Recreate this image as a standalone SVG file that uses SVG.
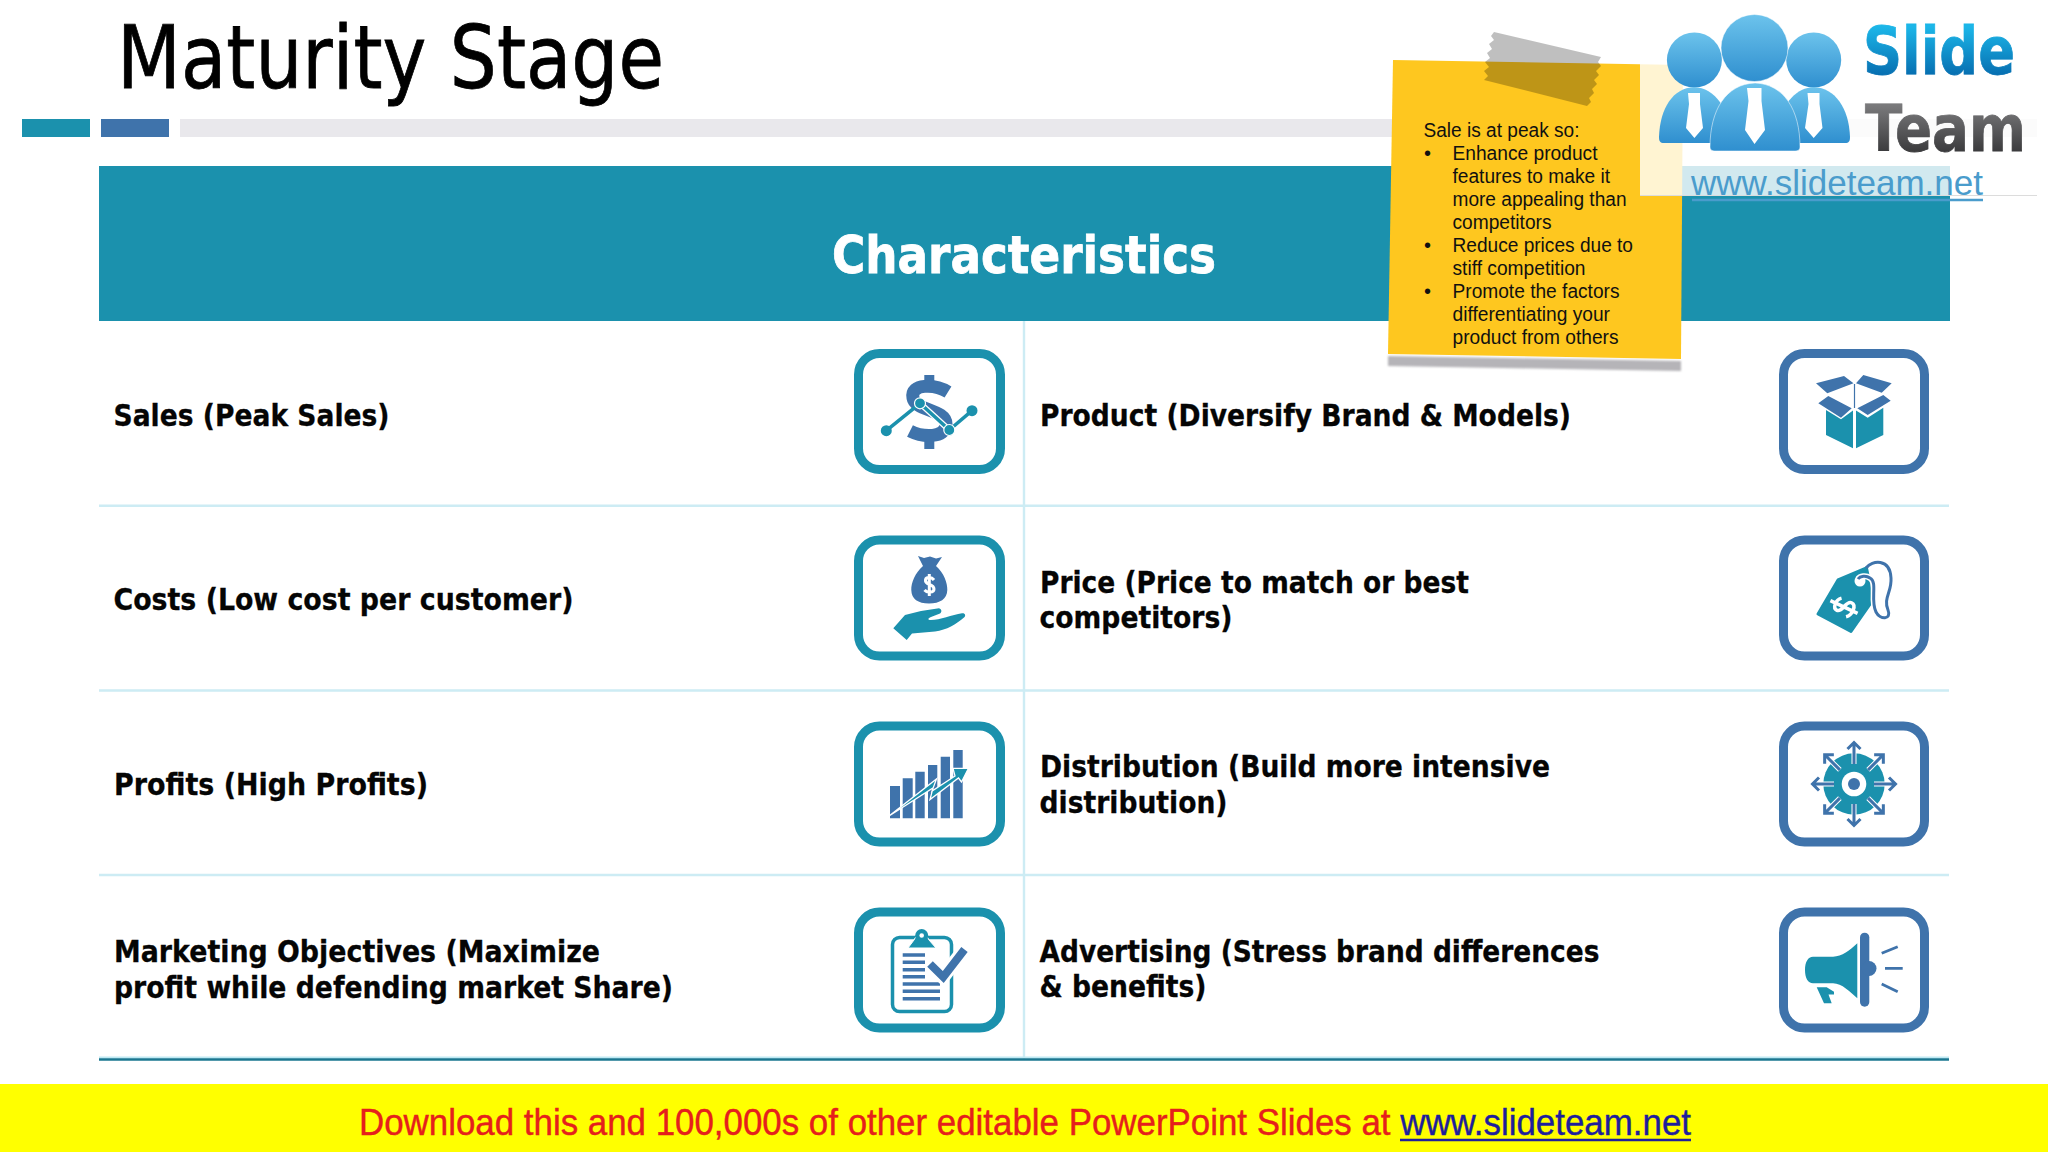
<svg xmlns="http://www.w3.org/2000/svg" width="2048" height="1152" viewBox="0 0 2048 1152">
<style>
.lbl{font-family:"DejaVu Sans","Liberation Sans",sans-serif;font-weight:700;font-size:30px;fill:#050505;stroke:#050505;stroke-width:.3px}
.note{font-family:"Liberation Sans",Arial,sans-serif;font-size:20px;fill:#111}
.box{fill:#fff;stroke-width:9}
.t{stroke:#1b91ad}.b{stroke:#3f73ab}
.ft{fill:#1b91ad}.fb{fill:#3f73ab}
.grid{stroke:#cdecf4;stroke-width:2.4;fill:none}
.ln{fill:none;stroke-linecap:butt}
</style>
<defs>
<filter id="soft" x="-5%" y="-20%" width="110%" height="140%"><feGaussianBlur stdDeviation="1.200"/></filter>
<linearGradient id="gP" x1="0" y1="0" x2="0" y2="1"><stop offset="0" stop-color="#6cc3ec"/><stop offset="1" stop-color="#2f8fcf"/></linearGradient>
<linearGradient id="gS" gradientUnits="userSpaceOnUse" x1="0" y1="27" x2="0" y2="74"><stop offset="0" stop-color="#1cb6e8"/><stop offset="1" stop-color="#0770b2"/></linearGradient>
<linearGradient id="gT" gradientUnits="userSpaceOnUse" x1="0" y1="105" x2="0" y2="151"><stop offset="0" stop-color="#7a7a7c"/><stop offset="1" stop-color="#3c3c3e"/></linearGradient>
<g id="ray"><path d="M0-20V-40" fill="none" stroke="#fff" stroke-width="5"/><path d="M0-20V-41M-6.500-35L0-41.500L6.500-35" fill="none" stroke="#3f73ab" stroke-width="3"/></g>
</defs>
<rect width="2048" height="1152" fill="#fff"/>

<g id="title"><text x="117" y="88" font-family="DejaVu Sans,Liberation Sans,sans-serif" font-size="88" fill="#000" stroke="#000" stroke-width=".8" textLength="547" lengthAdjust="spacingAndGlyphs">Maturity Stage</text></g>

<g id="accent-bars">
<rect x="22" y="119" width="68" height="18" fill="#1b91ad"/>
<rect x="101" y="119" width="68" height="18" fill="#3f73ab"/>
<rect x="180" y="119" width="1857" height="18" fill="#e9e8ec"/>
</g>

<g id="header">
<rect x="99" y="166" width="1851" height="155" fill="#1b91ad"/>
<text x="832" y="272.500" font-family="DejaVu Sans,Liberation Sans,sans-serif" font-weight="700" font-size="52" fill="#fff" stroke="#fff" stroke-width=".8" textLength="384" lengthAdjust="spacingAndGlyphs">Characteristics</text>
</g>

<g id="grid">
<path class="grid" d="M1024 321V1059M99 505.700H1949M99 690.500H1949M99 875H1949"/>
<path d="M99 1057.500H1949" stroke="#bfe9f3" stroke-width="2"/>
<path d="M99 1059.500H1949" stroke="#1a7790" stroke-width="2.400"/>
</g>

<g id="row-sales">
<text class="lbl" x="113.500" y="426.200" textLength="276" lengthAdjust="spacingAndGlyphs">Sales (Peak Sales)</text>
<rect class="box t" x="858.500" y="353.500" width="142" height="116" rx="21"/>
<path class="fb" d="M924.300 375h10v16h-10zM924.300 432h10v17h-10z"/>
<path class="ln b" stroke-width="13" d="M948 392C935 384 910 383 913 398C915 411 946 409 946 424C946 439 922 437 910 431"/>
<path class="ln" stroke="#fff" stroke-width="6" d="M920 403.300L949.300 430"/>
<path class="ln t" stroke-width="3.500" d="M886.300 430.700L920 403.300L949.300 430L972 410.700"/>
<circle class="ft" cx="886.300" cy="430.700" r="5.500"/><circle class="ft" cx="972" cy="410.700" r="5.500"/>
<circle class="ft" cx="920" cy="403.300" r="5.500" stroke="#fff" stroke-width="1.200"/><circle class="ft" cx="949.300" cy="430" r="5.500" stroke="#fff" stroke-width="1.200"/>
</g>

<g id="row-costs">
<text class="lbl" x="113.500" y="610.300" textLength="460" lengthAdjust="spacingAndGlyphs">Costs (Low cost per customer)</text>
<rect class="box t" x="858.500" y="540" width="142" height="116" rx="21"/>
<path class="fb" d="M918 556L924 558L930 556.500L936 558.500L942 557L936 566C944 573 947.500 583 947.300 590C947 599 940 603.500 929 603.500C918 603.500 911.500 599 911.300 590C911 583 915 573 923 566Z"/>
<path class="ln" stroke="#fff" stroke-width="3" d="M934 580C931 576 925 577 925.500 581C926 585 934 584 934 589C934 593 927 593 924.500 590M929.300 574V596"/>
<path class="ft" d="M893.300 628.300L905 615L921 611L939 608.300C942 609 942 612.500 940 613.500L931 617C928 618 927 620 931 620C940 620 952 615 962 613.300C965.500 613 966 616 964 617.500C956 624 947 630 935 631.500L912 633.500L906.700 640Z"/>
</g>

<g id="row-profits">
<text class="lbl" x="114" y="795.200" textLength="314" lengthAdjust="spacingAndGlyphs">Profits (High Profits)</text>
<rect class="box t" x="858.500" y="726" width="142" height="116" rx="21"/>
<path class="fb" d="M890 786h10v32.300h-10zM902.700 778.300h10v40h-10zM915.300 771.700h9.400v46.600h-9.400zM928 765h9.300v53.300h-9.300zM940.700 756.700h9.300v61.600h-9.300zM953.300 750h9.400v68.300h-9.400z"/>
<path class="ft" stroke="#fff" stroke-width="1.300" d="M889 816L936.500 779L932 791L955 776L953 768.300L968.500 768.300L961.500 782L958.500 778L930 799.500L933 788Z"/>
</g>

<g id="row-marketing">
<text class="lbl" x="114" y="961.800" textLength="486" lengthAdjust="spacingAndGlyphs">Marketing Objectives (Maximize</text>
<text class="lbl" x="114" y="997.500" textLength="559" lengthAdjust="spacingAndGlyphs">profit while defending market Share)</text>
<rect class="box t" x="858.500" y="912" width="142" height="116" rx="21"/>
<rect x="892.500" y="937.500" width="59" height="74" rx="7" fill="none" stroke="#1b91ad" stroke-width="3.500"/>
<path class="ft" d="M908 948L914 940A8 8 0 0 1 929 940L936 948Z" stroke="#fff" stroke-width="1"/>
<circle cx="921.700" cy="935.500" r="6.500" class="ft"/><circle cx="921.700" cy="935.500" r="2.300" fill="#fff"/>
<path class="ln b" stroke-width="3.500" d="M902.700 955H925M902.700 962.300H925M902.700 969.700H925M902.700 976.700H925M902.700 984H940M902.700 991.300H940M902.700 998.700H940"/>
<path class="ln" stroke="#fff" stroke-width="14" d="M931 965L943 977L964 950"/>
<path class="ln b" stroke-width="8" d="M930 964L943.300 977L964.500 949.500"/>
</g>

<g id="row-product">
<text class="lbl" x="1040" y="426.200" textLength="531" lengthAdjust="spacingAndGlyphs">Product (Diversify Brand &amp; Models)</text>
<rect class="box b" x="1783.500" y="353.500" width="141" height="116" rx="21"/>
<path class="fb" d="M1816 383.300L1844 376L1853.500 383.300L1827.300 393.300ZM1856 383.300L1863.300 375L1891.700 383.300L1881.700 392.700ZM1818.300 403.300L1828.300 396L1851.700 408.300L1841 417.700ZM1857.300 408.300L1883.300 395L1890.700 400.700L1867.700 415Z"/>
<path class="ft" d="M1826 410L1841 419.300L1853 410.500V448.300L1826 435ZM1856 410.500L1867.700 417.700L1883.300 407.700V435L1856 448.300Z"/>
<path class="ln b" stroke-width="1.200" d="M1854.500 384V408"/>
</g>

<g id="row-price">
<text class="lbl" x="1040" y="592.500" textLength="429" lengthAdjust="spacingAndGlyphs">Price (Price to match or best</text>
<text class="lbl" x="1039.500" y="628.100" textLength="193" lengthAdjust="spacingAndGlyphs">competitors)</text>
<rect class="box b" x="1783.500" y="540" width="141" height="116" rx="21"/>
<path class="ft" stroke="#1b91ad" stroke-width="3" stroke-linejoin="round" d="M1838 580L1866.500 568L1873 600L1851 631.500L1818 614Z"/>
<circle cx="1860" cy="581" r="5.500" fill="#fff"/>
<path class="ln" stroke="#fff" stroke-width="6" d="M1876 612C1870 600 1878 582 1870 578C1866 575 1860 576 1858 579"/>
<path class="ln b" stroke-width="3" d="M1866 568C1872 560 1890 558 1891 578C1892 592 1883 598 1888 610C1892 620 1880 620 1876 612C1870 600 1878 582 1870 578C1866 575 1860 576 1858 579"/>
<g transform="rotate(-65 1844 607)"><path class="ln" stroke="#fff" stroke-width="3.500" d="M1851 601C1847 596 1838 597 1838 602C1838 608 1851 606 1851 612C1851 618 1840 618 1836 613M1844 592V622"/></g>
</g>

<g id="row-distribution">
<text class="lbl" x="1040" y="776.800" textLength="510" lengthAdjust="spacingAndGlyphs">Distribution (Build more intensive</text>
<text class="lbl" x="1039.500" y="812.800" textLength="188" lengthAdjust="spacingAndGlyphs">distribution)</text>
<rect class="box b" x="1783.500" y="726" width="141" height="116" rx="21"/>
<circle class="ft" cx="1854" cy="784" r="30.700"/>
<circle cx="1854" cy="784" r="12.300" fill="#fff"/><circle class="fb" cx="1854" cy="784" r="6"/>
<use href="#ray" transform="translate(1854 784)"/>
<use href="#ray" transform="translate(1854 784) rotate(45)"/>
<use href="#ray" transform="translate(1854 784) rotate(90)"/>
<use href="#ray" transform="translate(1854 784) rotate(135)"/>
<use href="#ray" transform="translate(1854 784) rotate(180)"/>
<use href="#ray" transform="translate(1854 784) rotate(225)"/>
<use href="#ray" transform="translate(1854 784) rotate(270)"/>
<use href="#ray" transform="translate(1854 784) rotate(315)"/>
</g>

<g id="row-advertising">
<text class="lbl" x="1039.500" y="961.500" textLength="560" lengthAdjust="spacingAndGlyphs">Advertising (Stress brand differences</text>
<text class="lbl" x="1039.500" y="996.800" textLength="167" lengthAdjust="spacingAndGlyphs">&amp; benefits)</text>
<rect class="box b" x="1783.500" y="912" width="141" height="116" rx="21"/>
<path class="ft" d="M1813 956.700H1833C1842 956.700 1850 950 1857.300 943.300V998.300C1850 992 1842 983.300 1833 983.300H1813C1808 983.300 1805 978 1805 970C1805 962 1808 956.700 1813 956.700Z"/>
<path class="ft" d="M1816.700 987.300H1826.700L1834 991.700V994.500H1828.500L1831.700 1003.300H1824Z"/>
<rect class="fb" x="1860" y="932.700" width="9.300" height="74" rx="4.600"/>
<circle class="fb" cx="1869" cy="968.500" r="7.500"/>
<path class="ln b" stroke-width="2.800" d="M1881.700 953.300L1897.700 946.700M1885 968.300H1902.700M1881.700 984L1897.700 991.700"/>
</g>

<g id="sticky-note">
<path d="M1388 356L1681 361V371L1388 366Z" fill="#b5b4b8" filter="url(#soft)"/>
<path d="M1393 60L1683 65L1681 359L1388 354Z" fill="#fec71f"/>
<path d="M1494 32L1601 57L1598 62L1601 66L1596 71L1599 75L1594 80L1597 84L1592 89L1594 93L1589 98L1591 102L1587 106L1484 80L1488 76L1484 71L1489 67L1485 62L1490 58L1487 53L1492 49L1489 44L1494 40L1491 36Z" fill="#000" fill-opacity=".25"/>
<g class="note">
<text x="1423.500" y="136.700" textLength="156" lengthAdjust="spacingAndGlyphs">Sale is at peak so:</text>
<text x="1424" y="160.300">•</text>
<text x="1452.500" y="160.300" textLength="145" lengthAdjust="spacingAndGlyphs">Enhance product</text>
<text x="1452.500" y="183" textLength="157.500" lengthAdjust="spacingAndGlyphs">features to make it</text>
<text x="1452.500" y="206" textLength="174" lengthAdjust="spacingAndGlyphs">more appealing than</text>
<text x="1452.500" y="229" textLength="99" lengthAdjust="spacingAndGlyphs">competitors</text>
<text x="1424" y="252.300">•</text>
<text x="1452.500" y="252.300" textLength="180.500" lengthAdjust="spacingAndGlyphs">Reduce prices due to</text>
<text x="1452.500" y="275.300" textLength="133" lengthAdjust="spacingAndGlyphs">stiff competition</text>
<text x="1424" y="298.300">•</text>
<text x="1452.500" y="298.300" textLength="167" lengthAdjust="spacingAndGlyphs">Promote the factors</text>
<text x="1452.500" y="321" textLength="157.500" lengthAdjust="spacingAndGlyphs">differentiating your</text>
<text x="1452.500" y="344" textLength="166" lengthAdjust="spacingAndGlyphs">product from others</text>
</g>
</g>

<g id="logo">
<rect x="1640" y="0" width="397" height="195" fill="#fff" fill-opacity=".8"/>
<path d="M1640 195.500H2037" stroke="#dcdcdc" stroke-width="1"/>
<circle cx="1694.400" cy="60" r="27.500" fill="url(#gP)"/>
<circle cx="1813.700" cy="60" r="27.500" fill="url(#gP)"/>
<path d="M1659 137C1660 108 1673 88 1694 87C1715 88 1730 108 1732 143H1664C1660 143 1659 141 1659 137Z" fill="url(#gP)"/>
<path d="M1850 137C1849 108 1835 88 1814 87C1793 88 1778 108 1776 143H1845C1849 143 1850 141 1850 137Z" fill="url(#gP)"/>
<circle cx="1754.500" cy="48" r="33.500" fill="url(#gP)" stroke="#fff" stroke-opacity=".5"/>
<path d="M1710 147C1710 110 1726 84 1755 83C1784 84 1800 110 1800 147C1800 150 1798 151 1795 151H1715C1712 151 1710 150 1710 147Z" fill="url(#gP)" stroke="#fff" stroke-opacity=".5"/>
<path d="M1688 93H1700V104L1703 128L1694.400 138L1686 128L1689 104Z" fill="#fff"/>
<path d="M1807.500 93H1819.500V104L1822.500 128L1813.700 138L1805 128L1808.500 104Z" fill="#fff"/>
<path d="M1747 88H1761.500V101L1765 130L1754.500 144L1745 130L1748.500 101Z" fill="#fff"/>
<text x="1863" y="74" font-family="DejaVu Sans,Liberation Sans,sans-serif" font-weight="700" font-size="66" fill="url(#gS)" stroke="url(#gS)" stroke-width=".8" textLength="152" lengthAdjust="spacingAndGlyphs">Slide</text>
<text x="1865" y="150.700" font-family="DejaVu Sans,Liberation Sans,sans-serif" font-weight="700" font-size="64" fill="url(#gT)" stroke="url(#gT)" stroke-width=".8" textLength="161" lengthAdjust="spacingAndGlyphs">Team</text>
<text x="1691" y="195" font-family="Liberation Sans,Arial,sans-serif" font-size="35" fill="#4a9ccc" textLength="292" lengthAdjust="spacingAndGlyphs">www.slideteam.net</text>
<path d="M1692 200H1983" stroke="#4a9ccc" stroke-width="2.500"/>
</g>

<g id="footer">
<rect x="0" y="1084" width="2048" height="68" fill="#ffff00"/>
<text x="359" y="1135" font-family="Liberation Sans,Arial,sans-serif" font-size="36.500" stroke-width=".4" fill="#e5201c" stroke="#e5201c" textLength="1332" lengthAdjust="spacingAndGlyphs">Download this and 100,000s of other editable PowerPoint Slides at <tspan fill="#1e1e9c" stroke="#1e1e9c">www.slideteam.net</tspan></text>
<path d="M1400 1140H1691" stroke="#1e1e9c" stroke-width="2.600"/>
</g>
</svg>
